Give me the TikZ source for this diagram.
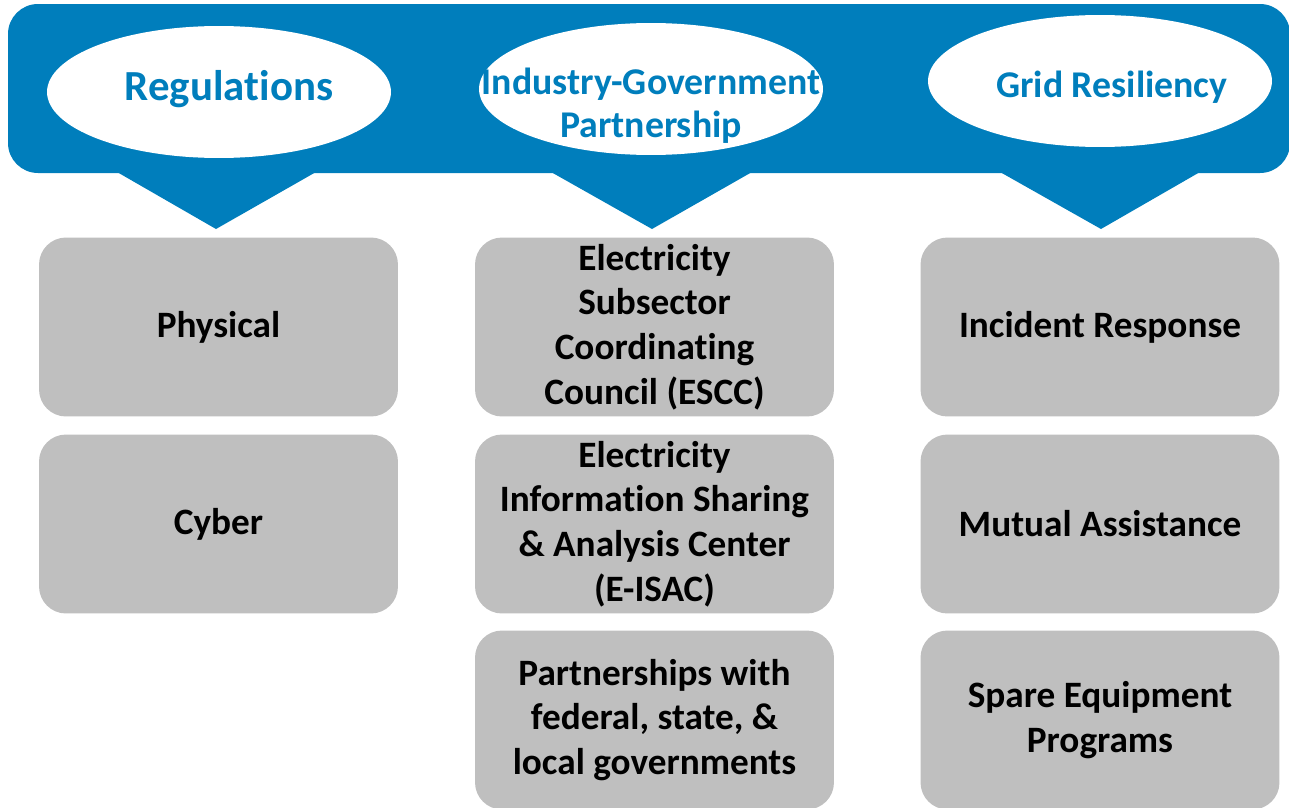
\documentclass[tikz,border=0pt]{standalone}
\usepackage{fontspec}
\setmainfont{Carlito}[Ligatures=NoCommon]
\usetikzlibrary{shapes.geometric}
\definecolor{bannerblue}{HTML}{007EBC}
\definecolor{boxgray}{HTML}{BFBFBF}

\begin{document}
\begin{tikzpicture}[x=0.02cm, y=-0.02cm,
  topic/.style={fill=boxgray, rounded corners=0.54cm, minimum width=7.18cm, minimum height=3.58cm, align=center, font=\bfseries\fontsize{21.2}{25.5}\selectfont},
  head/.style={ellipse, fill=white, minimum width=6.88cm, minimum height=2.64cm, inner sep=0pt},
  headtext/.style={align=center, text=bannerblue, font=\bfseries\fontsize{21.5}{24.5}\selectfont}]

\useasboundingbox (0,0) rectangle (1289,808);

% banner with pointers
\fill[bannerblue, rounded corners=0.6cm] (8,4) rectangle (1290,173);
\fill[bannerblue] (117,172) -- (316,172) -- (216,229) -- cycle;
\fill[bannerblue] (551,172) -- (752,172) -- (652,229) -- cycle;
\fill[bannerblue] (1000,172) -- (1200,172) -- (1101,229) -- cycle;

\node[head] (regEll) at (219,92) {};
\node[head] (partEll) at (651,89) {};
\node[head] (gridEll) at (1100,81) {};

\node[headtext, font=\bfseries\fontsize{24.4}{27}\selectfont] (regText) at (229,89) {Regulations};
\node[headtext] (partText) at (651,106) {Industry-Government\\Partnership};
\node[headtext] (gridText) at (1112,87) {Grid Resiliency};

% regulations column
\node[topic] (physical) at (218.5,327) {Physical};
\node[topic] (cyber) at (218.5,524) {Cyber};

% partnership column
\node[topic] (escc) at (654.5,327) {Electricity\\Subsector\\Coordinating\\Council (ESCC)};
\node[topic] (eisac) at (654.5,524) {Electricity\\Information Sharing\\\& Analysis Center\\(E-ISAC)};
\node[topic] (govts) at (654.5,720) {Partnerships with\\federal, state, \&\\local governments};

% resiliency column
\node[topic] (incident) at (1100,327) {Incident Response};
\node[topic] (mutual) at (1100,524) {Mutual Assistance};
\node[topic] (spare) at (1100,720) {Spare Equipment\\Programs};
\end{tikzpicture}
\end{document}
